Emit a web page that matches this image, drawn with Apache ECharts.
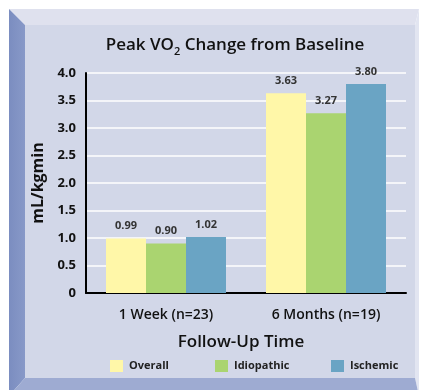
<!DOCTYPE html>
<html>
<head>
<meta charset="utf-8">
<script src="https://cdn.jsdelivr.net/npm/echarts@6/dist/echarts.min.js"></script>
<style>
  html, body { margin: 0; padding: 0; background: #ffffff; }
  #chart { width: 422px; height: 390px; }
</style>
</head>
<body>
<div id="chart"></div>
<script>
// Follow-up time points and the three patient groups
const categories = ['1 Week (n=23)', '6 Months (n=19)'];
const overall = [0.99, 3.63];
const idiopathic = [0.90, 3.27];
const ischemic = [1.02, 3.80];
const yTicks = ['0', '0.5', '1.0', '1.5', '2.0', '2.5', '3.0', '3.5', '4.0'];

const FONT = '"Open Sans", "DejaVu Sans", sans-serif';
const colors = { overall: '#fff7a8', idiopathic: '#aad470', ischemic: '#6aa4c4' };

const chart = echarts.init(document.getElementById('chart'), null, { renderer: 'canvas' });

function barSeries(name, data, color) {
  return {
    name: name,
    type: 'bar',
    data: data,
    barGap: '0%',
    barCategoryGap: '25%',
    itemStyle: { color: color },
    label: {
      show: true,
      position: 'top',
      distance: 7,
      formatter: p => p.value.toFixed(2),
      fontFamily: FONT,
      fontWeight: 'bold',
      fontSize: 11,
      color: '#333333'
    }
  };
}

function legendFor(name, left) {
  return {
    data: [name],
    left: left,
    top: 355,
    itemWidth: 13,
    itemHeight: 12,
    itemGap: 0,
    icon: 'rect',
    textStyle: { fontFamily: FONT, fontWeight: 'bold', fontSize: 11, color: '#222222', padding: [0, 0, 0, 1] }
  };
}

chart.setOption({
  animation: false,
  backgroundColor: '#ffffff',
  graphic: [
    // bevelled panel behind the chart
    { type: 'polygon', z: -10, shape: { points: [[9, 9], [419, 9], [415, 25], [25, 25]] }, style: { fill: '#dfe1ee' } },
    { type: 'polygon', z: -10, shape: { points: [[419, 9], [419, 396], [415, 378], [415, 25]] }, style: { fill: '#e2e5f1' } },
    { type: 'polygon', z: -10, shape: { points: [[9, 9], [25, 25], [25, 378], [9, 396]] },
      style: { fill: new echarts.graphic.LinearGradient(0, 0, 1, 0, [{ offset: 0, color: '#7b8dc0' }, { offset: 1, color: '#8899c8' }]) } },
    { type: 'polygon', z: -10, shape: { points: [[9, 396], [25, 378], [415, 378], [419, 396]] }, style: { fill: '#9eabd2' } },
    { type: 'rect', z: -10, shape: { x: 25, y: 25, width: 390, height: 353 }, style: { fill: '#d2d7e8' } }
  ],
  title: {
    text: '{a|Peak VO}{s|2}{a| Change from Baseline}',
    left: 230,
    textAlign: 'center',
    top: 32,
    textStyle: {
      fontWeight: 600,
      rich: {
        a: { fontFamily: FONT, fontSize: 17, fontWeight: 600, color: '#111111', lineHeight: 22, verticalAlign: 'top' },
        s: { fontFamily: FONT, fontSize: 11, fontWeight: 600, color: '#111111', lineHeight: 22, padding: [9, 0, 0, 0], verticalAlign: 'top' }
      }
    }
  },
  legend: [
    legendFor('Overall', 105),
    legendFor('Idiopathic', 210),
    legendFor('Ischemic', 326)
  ],
  grid: { left: 86, right: 16, top: 73, bottom: 97, containLabel: false },
  xAxis: {
    type: 'category',
    data: categories,
    name: 'Follow-Up Time',
    nameLocation: 'middle',
    nameGap: 41,
    nameTextStyle: { fontFamily: FONT, fontSize: 17, fontWeight: 600, color: '#111111', padding: [0, 0, 0, -10] },
    axisLine: { lineStyle: { color: '#000000', width: 2 } },
    axisTick: { show: false },
    axisLabel: { fontFamily: FONT, fontSize: 14, fontWeight: 600, color: '#111111', margin: 15 }
  },
  yAxis: {
    type: 'value',
    min: 0,
    max: 4,
    interval: 0.5,
    name: 'mL/kgmin',
    nameLocation: 'middle',
    nameRotate: 90,
    nameGap: 40,
    nameTextStyle: { fontFamily: FONT, fontSize: 16, fontWeight: 'bold', color: '#111111' },
    axisLine: { show: true, lineStyle: { color: '#000000', width: 2 } },
    axisTick: { show: false },
    axisLabel: {
      fontFamily: FONT, fontSize: 13, fontWeight: 'bold', color: '#111111', margin: 10,
      formatter: v => yTicks[Math.round(v / 0.5)]
    },
    splitLine: { lineStyle: { color: '#ffffff', width: 1.5 } }
  },
  series: [
    barSeries('Overall', overall, colors.overall),
    barSeries('Idiopathic', idiopathic, colors.idiopathic),
    barSeries('Ischemic', ischemic, colors.ischemic)
  ]
});
</script>
</body>
</html>
